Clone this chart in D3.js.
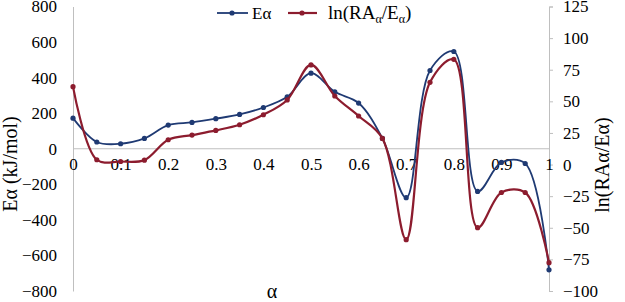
<!DOCTYPE html>
<html>
<head>
<meta charset="utf-8">
<script src="https://cdn.jsdelivr.net/npm/d3@7"></script>
<style>
  body { margin: 0; background: #fff; }
  svg text { font-family: "Liberation Serif", "Times New Roman", serif; fill: #000; }
</style>
</head>
<body>
<div class="canva"></div>
<script>
// data
const alpha = [0, 0.05, 0.1, 0.15, 0.2, 0.25, 0.3, 0.35, 0.4, 0.45, 0.5,
               0.55, 0.6, 0.65, 0.7, 0.75, 0.8, 0.85, 0.9, 0.95, 1];
const eAlpha = [172, 38, 28, 58, 133, 148, 169, 193, 232, 292, 425,
                320, 257, 58, -275, 440, 547, -240, -77, -83, -681];
const lnRA = [61.6, 3.8, 2.4, 3.5, 19.6, 23.3, 27, 31.5, 39.4, 51.1, 78.8,
              54.2, 38.4, 20.7, -59.4, 65, 83.2, -49.9, -22.1, -22.1, -77.6];
const xTicks = [0, 0.1, 0.2, 0.3, 0.4, 0.5, 0.6, 0.7, 0.8, 0.9, 1];
const leftTicks = [-800, -600, -400, -200, 0, 200, 400, 600, 800];
const rightTicks = [-100, -75, -50, -25, 0, 25, 50, 75, 100, 125];

const blue = "#1f3a73";
const red = "#8c1c2e";
const serif = '"Liberation Serif", "Times New Roman", serif';

const svg = d3.select(".canva").append("svg")
  .attr("width", 625)
  .attr("height", 302);

const x = d3.scaleLinear().domain([0, 1]).range([73, 549]);
const yL = d3.scaleLinear().domain([-800, 800]).range([291, 6.5]);
const yR = d3.scaleLinear().domain([-100, 125]).range([291, 6.5]);

function styleAxis(g) {
  g.attr("font-family", null).attr("font-size", null);
  g.selectAll("text").style("font-family", serif).style("font-size", "17px");
}

// zero line
svg.append("line")
  .attr("x1", x(0)).attr("x2", x(1))
  .attr("y1", yL(0)).attr("y2", yL(0))
  .attr("stroke", "#bfbfbf").attr("stroke-width", 1);

// left axis
const leftAxis = svg.append("g")
  .attr("transform", `translate(${x(0)},0)`)
  .call(d3.axisLeft(yL).tickValues(leftTicks).tickSize(0).tickPadding(16))
  .call(styleAxis);
leftAxis.select(".domain").attr("stroke", "#bfbfbf");

// right axis
const rightAxis = svg.append("g")
  .attr("transform", `translate(${x(1)},0)`)
  .call(d3.axisRight(yR).tickValues(rightTicks).tickSize(4).tickPadding(10))
  .call(styleAxis);
rightAxis.selectAll(".domain, line").attr("stroke", "#bfbfbf");

// x axis labels just under the zero line
const xAxis = svg.append("g")
  .attr("transform", `translate(0,${yL(0)})`)
  .call(d3.axisBottom(x).tickValues(xTicks).tickFormat(d3.format("")).tickSize(0).tickPadding(9))
  .call(styleAxis);
xAxis.select(".domain").remove();

// lines
const lineL = d3.line()
  .x((d, i) => x(alpha[i]))
  .y(d => yL(d))
  .curve(d3.curveCatmullRom.alpha(0.5));
const lineR = d3.line()
  .x((d, i) => x(alpha[i]))
  .y(d => yR(d))
  .curve(d3.curveCatmullRom.alpha(0.5));

svg.append("path").datum(eAlpha)
  .attr("d", lineL).attr("fill", "none")
  .attr("stroke", blue).attr("stroke-width", 1.8);
svg.selectAll(".ptL").data(eAlpha).join("circle")
  .attr("class", "ptL")
  .attr("cx", (d, i) => x(alpha[i])).attr("cy", d => yL(d))
  .attr("r", 2.6).attr("fill", blue);

svg.append("path").datum(lnRA)
  .attr("d", lineR).attr("fill", "none")
  .attr("stroke", red).attr("stroke-width", 2.2);
svg.selectAll(".ptR").data(lnRA).join("circle")
  .attr("class", "ptR")
  .attr("cx", (d, i) => x(alpha[i])).attr("cy", d => yR(d))
  .attr("r", 2.6).attr("fill", red);

// axis titles
svg.append("text")
  .attr("transform", "translate(17,164) rotate(-90)")
  .attr("text-anchor", "middle")
  .style("font-size", "20px")
  .text("Eα (kJ/mol)");

svg.append("text")
  .attr("transform", "translate(609,165) rotate(-90)")
  .attr("text-anchor", "middle")
  .style("font-size", "20px")
  .text("ln(RAα/Eα)");

svg.append("text")
  .attr("x", 272).attr("y", 298)
  .attr("text-anchor", "middle")
  .style("font-size", "20px")
  .text("α");

// legend
const legY = 13;
svg.append("line").attr("x1", 217).attr("x2", 248).attr("y1", legY).attr("y2", legY)
  .attr("stroke", blue).attr("stroke-width", 1.8);
svg.append("circle").attr("cx", 232).attr("cy", legY).attr("r", 2.6).attr("fill", blue);
svg.append("text").attr("x", 252).attr("y", legY + 6).style("font-size", "17px").text("Eα");

svg.append("line").attr("x1", 288).attr("x2", 317).attr("y1", legY).attr("y2", legY)
  .attr("stroke", red).attr("stroke-width", 2.2);
svg.append("circle").attr("cx", 302).attr("cy", legY).attr("r", 2.6).attr("fill", red);
const leg2 = svg.append("text").attr("x", 328).attr("y", legY + 6).style("font-size", "19px");
leg2.append("tspan").text("ln(RA");
leg2.append("tspan").attr("dy", 4).style("font-size", "12px").text("α");
leg2.append("tspan").attr("dy", -4).text("/E");
leg2.append("tspan").attr("dy", 4).style("font-size", "12px").text("α");
leg2.append("tspan").attr("dy", -4).text(")");
</script>
</body>
</html>
